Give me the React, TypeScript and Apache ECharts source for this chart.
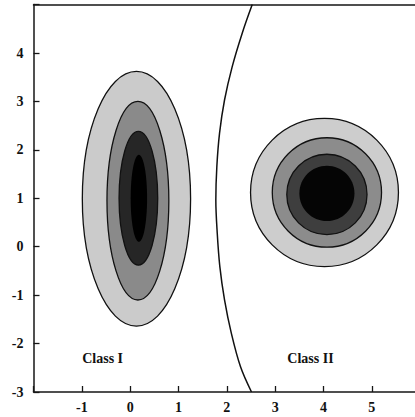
import React, { useEffect, useRef } from "react";
import * as echarts from "echarts";

// Axis ranges / ticks (the frame runs to x = 6, just past the picture's right edge)
const xRange = [-2, 6];
const yRange = [-3, 5];
const xTickValues = [-2, -1, 0, 1, 2, 3, 4, 5, 6];
const yTickValues = [-3, -2, -1, 0, 1, 2, 3, 4, 5];
const xLabelValues = [-1, 0, 1, 2, 3, 4, 5];
const yLabelValues = [-3, -2, -1, 0, 1, 2, 3, 4];

// Class I contours: [cx, cy, rx, ry], outer to inner
const classIContours = [
  [0.13, 0.99, 1.12, 2.63],
  [0.16, 0.95, 0.64, 2.05],
  [0.17, 1.0, 0.4, 1.38],
  [0.18, 1.0, 0.17, 0.9],
];

// Class II contours: [cx, cy, rx, ry], outer to inner
const classIIContours = [
  [4.02, 1.12, 1.53, 1.53],
  [4.07, 1.12, 1.13, 1.13],
  [4.07, 1.08, 0.83, 0.83],
  [4.07, 1.1, 0.57, 0.57],
];

// Decision boundary points [x, y]
const boundaryPoints = [
  [2.525, 5.0],
  [2.318, 4.41],
  [2.111, 3.72],
  [1.952, 3.03],
  [1.849, 2.345],
  [1.793, 1.655],
  [1.772, 0.967],
  [1.801, 0.285],
  [1.855, -0.41],
  [1.952, -1.1],
  [2.091, -1.78],
  [2.283, -2.48],
  [2.51, -3.0],
];

// Class labels
const classLabelX = [-0.57, 3.73];
const classLabelY = [-2.3, -2.3];
const classLabelText = ["Class I", "Class II"];

const classIShades = ["#cbcbcb", "#8a8a8a", "#262626", "#000000"];
const classIIShades = ["#cdcdcd", "#8c8c8c", "#3e3e3e", "#050505"];
const classIOutline = [true, true, true, false];
const classIIOutline = [true, true, true, false];

const FONT = "'Liberation Serif', 'Times New Roman', serif";
const AXIS_COLOR = "#161616";

function contourSeries(name: string, data: number[][], shades: string[], outline: boolean[]) {
  return {
    name,
    type: "custom",
    data,
    encode: { x: 0, y: 1 },
    clip: true,
    silent: true,
    z: 2,
    renderItem: (params: any, api: any) => {
      const c = api.coord([api.value(0), api.value(1)]);
      const s = api.size([api.value(2), api.value(3)]);
      const i = params.dataIndex;
      return {
        type: "ellipse",
        shape: { cx: c[0], cy: c[1], rx: s[0], ry: s[1] },
        style: {
          fill: shades[i],
          stroke: outline[i] ? "#111" : null,
          lineWidth: outline[i] ? 1.3 : 0,
        },
      };
    },
  };
}

export default function App() {
  const ref = useRef<HTMLDivElement>(null);
  useEffect(() => {
    if (!ref.current) return;
    const chart = echarts.init(ref.current, undefined, { renderer: "svg" });
    chart.setOption({
      animation: false,
      backgroundColor: "#ffffff",
      grid: {
        left: 33.5,
        top: 4.6,
        width: 386.7,
        height: 387.4,
        show: false,
      },
      xAxis: [
        {
          type: "value",
          min: xRange[0],
          max: xRange[1],
          interval: 1,
          splitLine: { show: false },
          axisLine: { show: true, onZero: false, lineStyle: { color: AXIS_COLOR, width: 1.5 } },
          axisTick: {
            show: true,
            inside: true,
            length: 6,
            customValues: xTickValues,
            lineStyle: { color: AXIS_COLOR, width: 1.3 },
          },
          axisLabel: {
            margin: 8,
            color: "#111",
            fontFamily: FONT,
            fontWeight: "bold",
            fontSize: 14,
            customValues: xLabelValues,
            formatter: (v: number) => (xLabelValues.includes(v) ? String(v) : ""),
          },
        },
        {
          type: "value",
          position: "top",
          min: xRange[0],
          max: xRange[1],
          splitLine: { show: false },
          axisLine: { show: true, onZero: false, lineStyle: { color: AXIS_COLOR, width: 1.5 } },
          axisTick: { show: false },
          axisLabel: { show: false },
        },
      ],
      yAxis: {
        type: "value",
        min: yRange[0],
        max: yRange[1],
        interval: 1,
        splitLine: { show: false },
        axisLine: { show: true, onZero: false, lineStyle: { color: AXIS_COLOR, width: 1.5 } },
        axisTick: {
          show: true,
          inside: true,
          length: 6,
          customValues: yTickValues,
          lineStyle: { color: AXIS_COLOR, width: 1.3 },
        },
        axisLabel: {
          margin: 10,
          color: "#111",
          fontFamily: FONT,
          fontWeight: "bold",
          fontSize: 14,
          customValues: yLabelValues,
          formatter: (v: number) => (yLabelValues.includes(v) ? String(v) : ""),
        },
      },
      series: [
        contourSeries("Class I", classIContours, classIShades, classIOutline),
        contourSeries("Class II", classIIContours, classIIShades, classIIOutline),
        {
          name: "boundary",
          type: "line",
          data: boundaryPoints,
          smooth: 0.35,
          symbol: "none",
          clip: true,
          silent: true,
          z: 3,
          lineStyle: { color: "#111", width: 1.5 },
        },
        {
          name: "labels",
          type: "custom",
          data: classLabelX.map((x, i) => [x, classLabelY[i]]),
          encode: { x: 0, y: 1 },
          silent: true,
          z: 4,
          renderItem: (params: any, api: any) => {
            const c = api.coord([api.value(0), api.value(1)]);
            return {
              type: "text",
              x: c[0],
              y: c[1],
              style: {
                text: classLabelText[params.dataIndex],
                fill: "#111",
                fontFamily: FONT,
                fontWeight: "bold",
                fontSize: 14,
                align: "center",
                verticalAlign: "middle",
              },
            };
          },
        },
      ],
    });
    return () => chart.dispose();
  }, []);
  return (
    <div style={{ position: "absolute", left: 0, top: 0, width: 415, height: 417, overflow: "hidden", background: "#fff" }}>
      <div ref={ref} style={{ width: 440, height: 417 }} />
    </div>
  );
}
